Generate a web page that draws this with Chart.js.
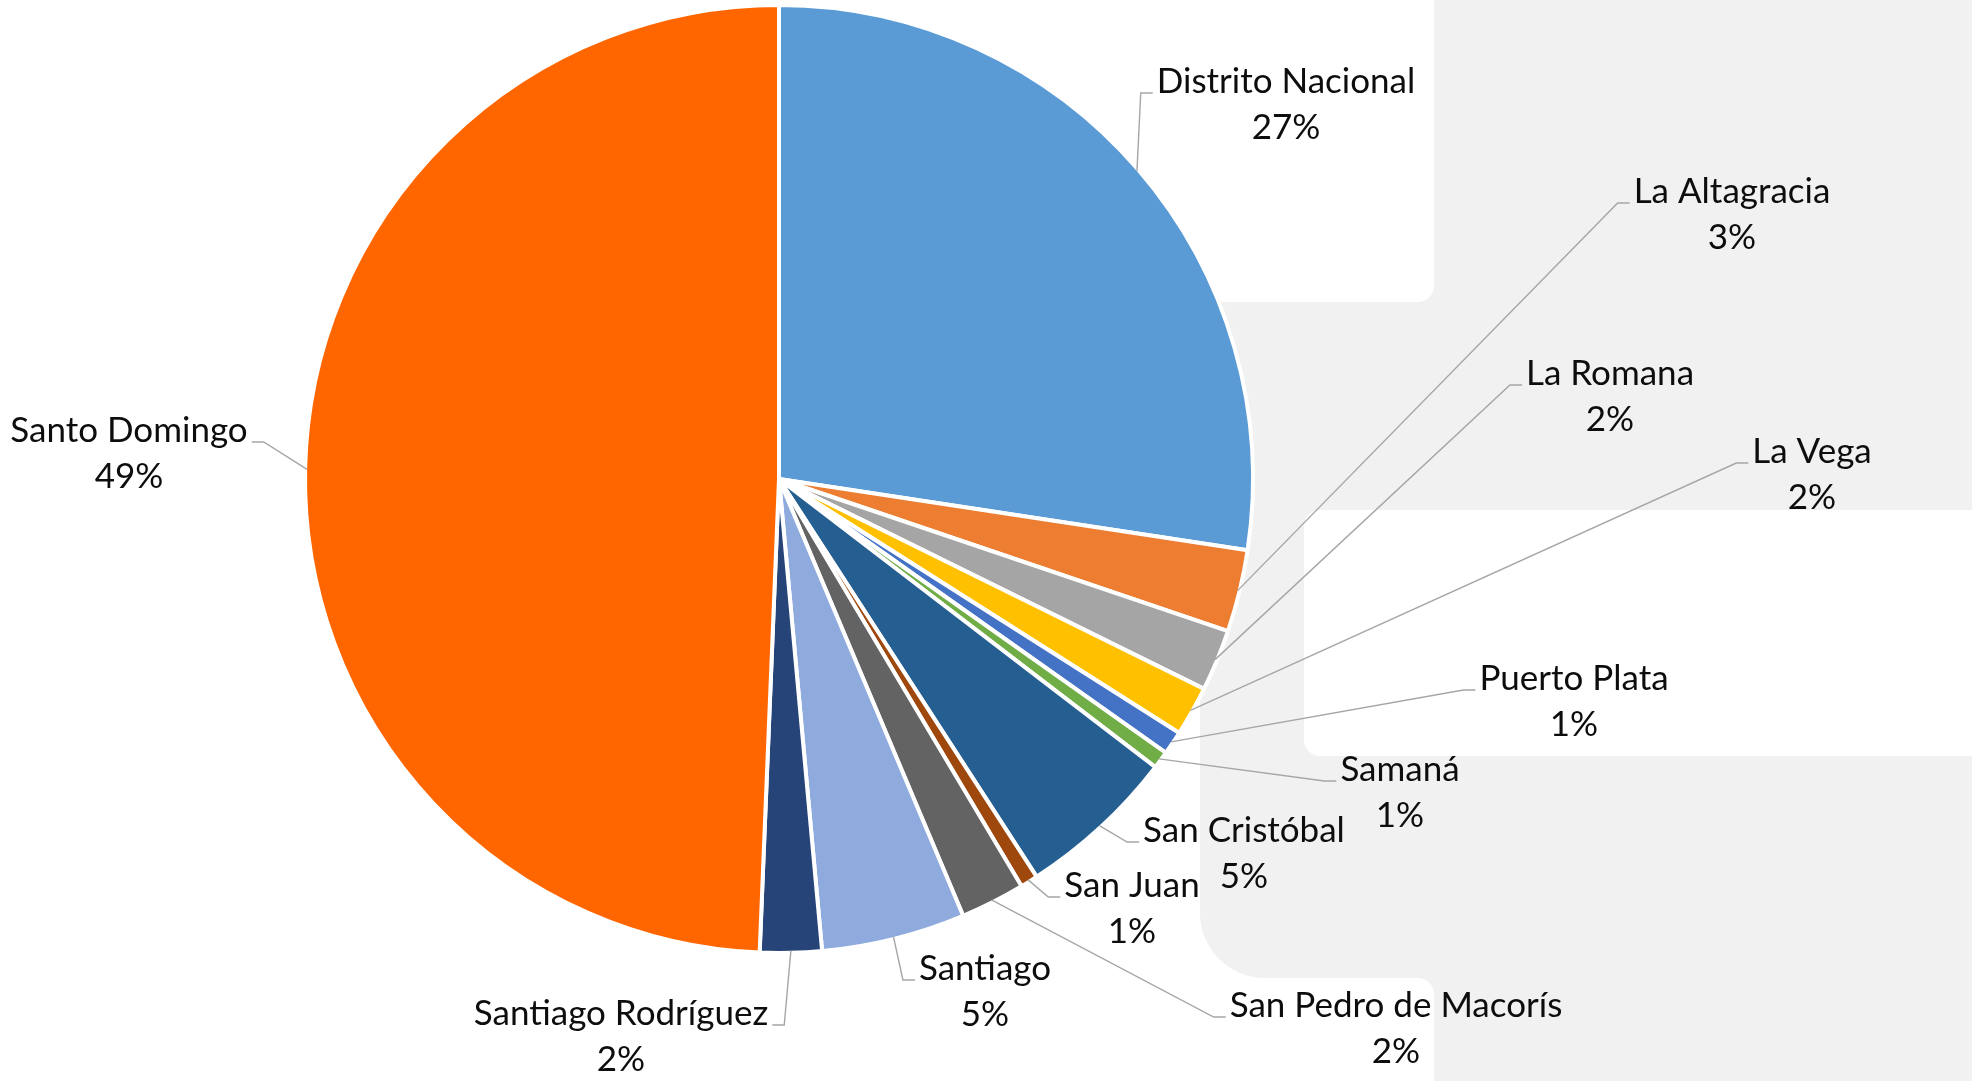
<!DOCTYPE html>
<html>
<head>
<meta charset="utf-8">
<script src="https://cdn.jsdelivr.net/npm/chart.js@4.4.1/dist/chart.umd.min.js"></script>
<style>
  html, body { margin: 0; padding: 0; background: #fff; overflow: hidden; }
  #wrap { width: 1972px; height: 1081px; }
</style>
</head>
<body>
<div id="wrap"><canvas id="chart" width="1972" height="1081"></canvas></div>
<script>
const provinces = [
  "Distrito Nacional", "La Altagracia", "La Romana", "La Vega", "Puerto Plata", "Samaná",
  "San Cristóbal", "San Juan", "San Pedro de Macorís", "Santiago", "Santiago Rodríguez", "Santo Domingo"
];
const shares = [27.4, 2.8, 2.1, 1.7, 0.8, 0.6, 5.45, 0.6, 2.2, 4.9, 2.1, 49.35];
const sliceColors = [
  "#5B9BD5", "#ED7D31", "#A5A5A5", "#FFC000", "#4472C4", "#70AD47",
  "#255E91", "#9E480E", "#636363", "#8FAADC", "#264478", "#FF6600"
];

// where each label sits: text centre x, baseline of the first line
const labelSpots = [
  [1286, 93], [1732, 203], [1610, 385], [1812, 463], [1574, 690], [1400, 781],
  [1244, 842], [1132, 897], [1396, 1017], [985, 980], [621, 1025], [129, 442]
];

const GRAY = "#f0f1f0";

// the light grey panels behind the right side of the chart
const backdrop = {
  id: "backdrop",
  beforeDraw(chart) {
    const ctx = chart.ctx;
    ctx.save();
    ctx.fillStyle = "#fff";
    ctx.fillRect(0, 0, chart.width, chart.height);

    ctx.fillStyle = GRAY;
    ctx.beginPath();
    ctx.moveTo(1434, 0);
    ctx.lineTo(1434, 286);
    ctx.arc(1418, 286, 16, 0, Math.PI / 2);
    ctx.lineTo(1200, 302);
    ctx.lineTo(1200, 913);
    ctx.arcTo(1200, 978, 1265, 978, 65);
    ctx.lineTo(1418, 978);
    ctx.arc(1418, 994, 16, -Math.PI / 2, 0);
    ctx.lineTo(1434, 1081);
    ctx.lineTo(1972, 1081);
    ctx.lineTo(1972, 0);
    ctx.closePath();
    ctx.fill();

    ctx.fillStyle = "#fff";
    ctx.beginPath();
    ctx.roundRect(1304, 510, 700, 246, 16);
    ctx.fill();
    ctx.restore();
  }
};

// Excel style labels: name + percent, with a grey leader line
const leaderLabels = {
  id: "leaderLabels",
  afterDatasetsDraw(chart) {
    const ctx = chart.ctx;
    const meta = chart.getDatasetMeta(0);
    const total = shares.reduce((a, b) => a + b, 0);
    ctx.save();
    ctx.font = "35px Lato";
    ctx.textAlign = "center";
    ctx.textBaseline = "alphabetic";
    meta.data.forEach((arc, i) => {
      const { x, y, startAngle, endAngle, outerRadius } =
        arc.getProps(["x", "y", "startAngle", "endAngle", "outerRadius"], true);
      const mid = (startAngle + endAngle) / 2;
      const sx = x + Math.cos(mid) * (outerRadius - 2);
      const sy = y + Math.sin(mid) * (outerRadius - 2);
      const [tx, ty] = labelSpots[i];
      const w = ctx.measureText(provinces[i]).width;
      const fromLeft = tx > sx;
      const endX = fromLeft ? tx - w / 2 - 4 : tx + w / 2 + 4;
      const elbowX = fromLeft ? endX - 12 : endX + 12;

      ctx.strokeStyle = "#a6a6a6";
      ctx.lineWidth = 1.4;
      ctx.beginPath();
      ctx.moveTo(sx, sy);
      ctx.lineTo(elbowX, ty);
      ctx.lineTo(endX, ty);
      ctx.stroke();

      ctx.fillStyle = "#0d0d0d";
      ctx.fillText(provinces[i], tx, ty);
      ctx.fillText(Math.round(shares[i] / total * 100) + "%", tx, ty + 46);
    });
    ctx.restore();
  }
};

new Chart(document.getElementById("chart"), {
  type: "pie",
  data: {
    labels: provinces,
    datasets: [{
      data: shares,
      backgroundColor: sliceColors,
      borderColor: "#fff",
      borderWidth: 4
    }]
  },
  options: {
    responsive: false,
    animation: false,
    devicePixelRatio: 1,
    layout: { padding: { left: 303, right: 717, top: 3, bottom: 126 } },
    plugins: {
      legend: { display: false },
      tooltip: { enabled: false }
    }
  },
  plugins: [backdrop, leaderLabels]
});
</script>
</body>
</html>
